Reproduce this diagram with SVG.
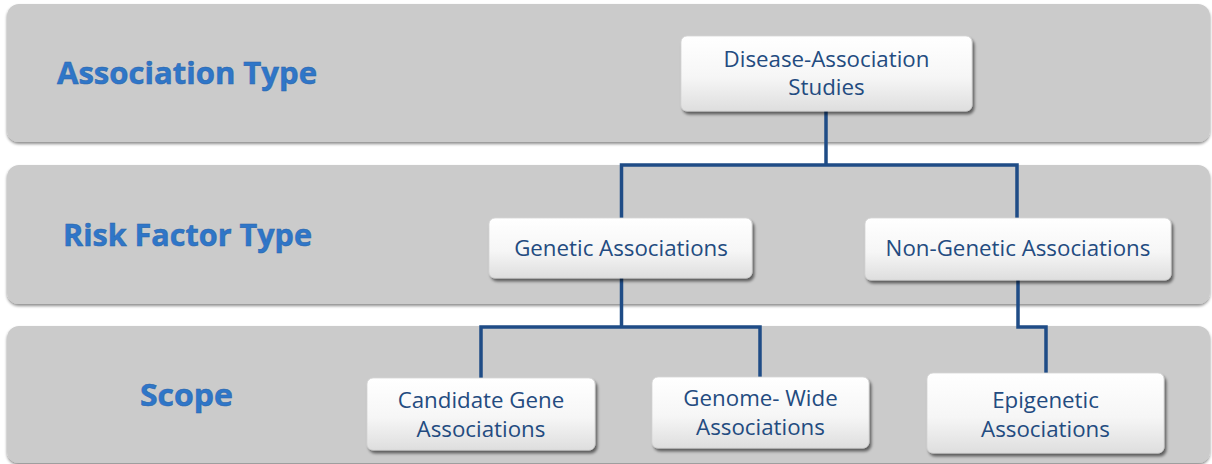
<svg xmlns="http://www.w3.org/2000/svg" width="1212" height="464" viewBox="0 0 1212 464">
<style>
.band{fill:#cbcbcb;filter:url(#bshadow)}
.node{fill:url(#ng);stroke:#d4d4d4;stroke-width:0.8;filter:url(#nshadow)}
.lbl{font-family:"Open Sans","Liberation Sans",Arial,sans-serif;font-weight:bold;font-size:31px;fill:#2f76c8;stroke:#2a64aa;stroke-width:0.5}
.nt{font-family:"Open Sans","Liberation Sans",sans-serif;font-size:22.3px;fill:#234b80;text-anchor:middle}
.conn{fill:none;stroke:#1f4c86;stroke-width:3.5;stroke-linejoin:miter}
</style>
<defs>
<linearGradient id="ng" x1="0" y1="0" x2="0" y2="1">
<stop offset="0" stop-color="#ffffff"/>
<stop offset="0.55" stop-color="#f6f6f6"/>
<stop offset="1" stop-color="#dedede"/>
</linearGradient>
<filter id="bshadow" x="-2%" y="-5%" width="104%" height="115%">
<feGaussianBlur in="SourceAlpha" stdDeviation="1.5"/>
<feOffset dx="0" dy="2" result="o"/>
<feComponentTransfer><feFuncA type="linear" slope="0.45"/></feComponentTransfer>
<feMerge><feMergeNode/><feMergeNode in="SourceGraphic"/></feMerge>
</filter>
<filter id="nshadow" x="-5%" y="-10%" width="112%" height="130%">
<feGaussianBlur in="SourceAlpha" stdDeviation="1.8"/>
<feOffset dx="1.5" dy="3" result="o"/>
<feComponentTransfer><feFuncA type="linear" slope="0.55"/></feComponentTransfer>
<feMerge><feMergeNode/><feMergeNode in="SourceGraphic"/></feMerge>
</filter>
</defs>
<rect width="1212" height="464" fill="#ffffff"/>
<g id="band-association-type">
<rect class="band" x="7" y="4" width="1203" height="138" rx="12"/>
<text class="lbl" x="57" y="84" textLength="260" lengthAdjust="spacingAndGlyphs">Association Type</text>
</g>
<g id="band-risk-factor-type">
<rect class="band" x="7" y="165" width="1203" height="139" rx="12"/>
<text class="lbl" x="63" y="246" textLength="249" lengthAdjust="spacingAndGlyphs">Risk Factor Type</text>
</g>
<g id="band-scope">
<rect class="band" x="7" y="326" width="1203" height="137" rx="12"/>
<text class="lbl" x="140" y="406" textLength="93" lengthAdjust="spacingAndGlyphs">Scope</text>
</g>
<g id="connectors">
<path class="conn" d="M826 111 V165"/>
<path class="conn" d="M621.5 218 V165 H1017 V218"/>
<path class="conn" d="M621.5 278 V327"/>
<path class="conn" d="M481 378 V327 H760 V377"/>
<path class="conn" d="M1018 280 V327 H1046 V373"/>
</g>
<g id="node-disease-association-studies">
<rect class="node" x="681" y="36" width="291" height="75" rx="6"/>
<text class="nt" x="826.5" y="67">Disease-Association</text>
<text class="nt" x="826.5" y="95">Studies</text>
</g>
<g id="node-genetic-associations">
<rect class="node" x="489" y="218" width="263" height="60" rx="6"/>
<text class="nt" x="621" y="256">Genetic Associations</text>
</g>
<g id="node-non-genetic-associations">
<rect class="node" x="865" y="218" width="306" height="62" rx="6"/>
<text class="nt" x="1018" y="256">Non-Genetic Associations</text>
</g>
<g id="node-candidate-gene-associations">
<rect class="node" x="367" y="378" width="228" height="72" rx="6"/>
<text class="nt" x="481" y="408">Candidate Gene</text>
<text class="nt" x="481" y="437">Associations</text>
</g>
<g id="node-genome-wide-associations">
<rect class="node" x="652" y="377" width="217" height="71" rx="6"/>
<text class="nt" x="760.5" y="406">Genome- Wide</text>
<text class="nt" x="760.5" y="435">Associations</text>
</g>
<g id="node-epigenetic-associations">
<rect class="node" x="927" y="373" width="237" height="80" rx="6"/>
<text class="nt" x="1045.5" y="408">Epigenetic</text>
<text class="nt" x="1045.5" y="437">Associations</text>
</g>
</svg>
